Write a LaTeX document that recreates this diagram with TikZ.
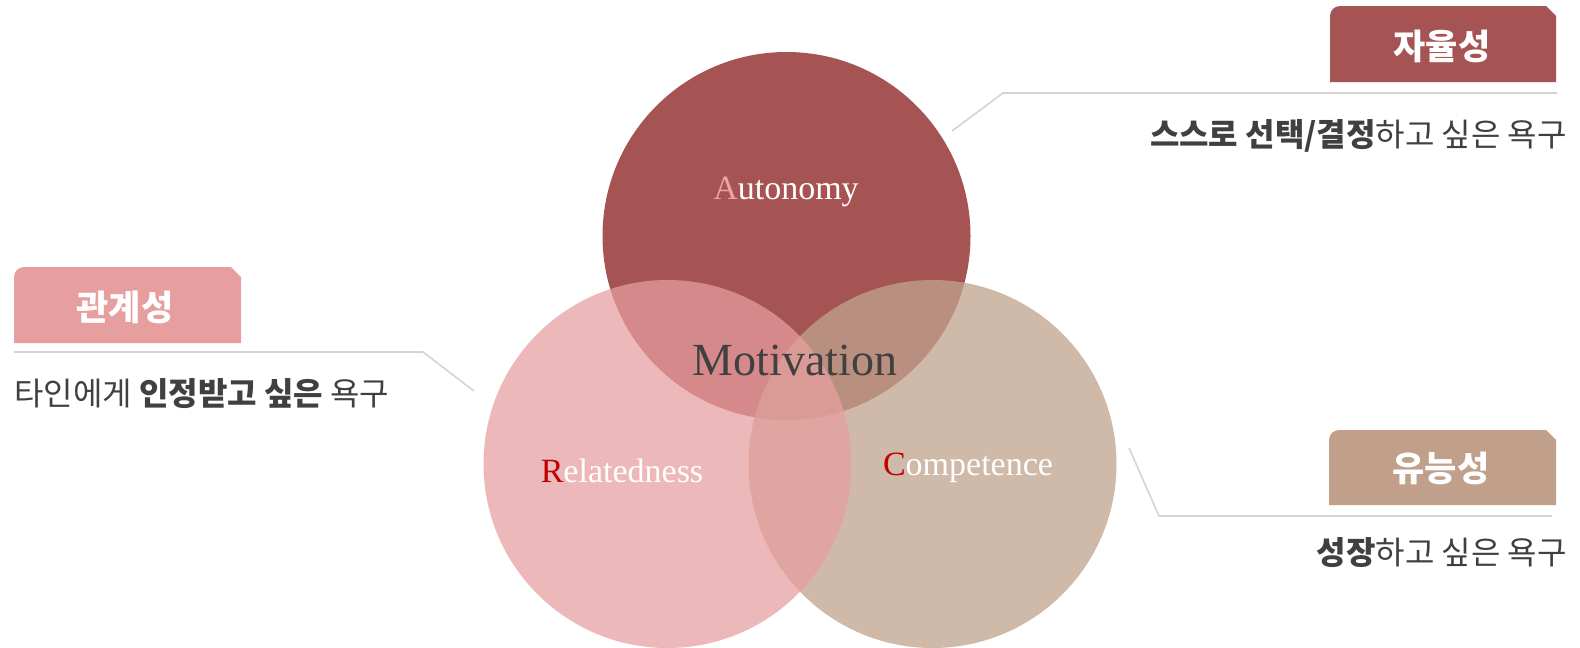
\documentclass[tikz,border=0pt]{standalone}
\usepackage{fontspec}
\setmainfont{Liberation Serif}
\newfontfamily\krfont{Noto Sans CJK KR}
\definecolor{autofill}{RGB}{166,83,84}
\definecolor{relfill}{RGB}{231,158,159}
\definecolor{compfill}{RGB}{192,164,141}
\definecolor{comptab}{RGB}{192,160,138}
\definecolor{txtgray}{RGB}{64,64,64}
\definecolor{leadgray}{RGB}{212,212,212}
\definecolor{initred}{RGB}{192,0,0}
\definecolor{initpink}{RGB}{234,162,162}

\tikzset{
  tablabel/.style={font=\krfont\bfseries\fontsize{35}{35}\selectfont, text=white, inner sep=0pt},
  needtext/.style={font=\krfont\fontsize{32}{32}\selectfont, text=txtgray, inner sep=0pt},
  circletext/.style={font=\fontsize{34}{34}\selectfont, text=white, inner sep=0pt},
  leadline/.style={draw=leadgray, line width=1.6pt},
}

\begin{document}
\begin{tikzpicture}[x=1pt,y=-1pt]
\useasboundingbox (0,0) rectangle (1580,648);
% three circles
\fill[autofill] (786.5,236) circle (184);
\fill[compfill, fill opacity=.765] (932.5,464) circle (184);
\fill[relfill, fill opacity=.73] (667.5,464) circle (184);
\node[circletext] (auto) at (786,192) {\textcolor{initpink}{A}utonomy};
\node[circletext] (rel) at (622,471) {\textcolor{initred}{R}elatedness};
\node[circletext] (comp) at (968,468) {\textcolor{initred}{C}ompetence};
\node[font=\fontsize{46}{46}\selectfont, text=txtgray, inner sep=0pt] (motiv) at (795,360) {Motivation};
% tabs
\fill[autofill] (1330,82) -- (1330,16) arc[start angle=180, end angle=270, radius=10] -- (1546,6) -- (1556,16) -- (1556,82) -- cycle;
\fill[relfill] (14,343) -- (14,277) arc[start angle=180, end angle=270, radius=10] -- (231,267) -- (241,277) -- (241,343) -- cycle;
\fill[comptab] (1329,505) -- (1329,440) arc[start angle=180, end angle=270, radius=10] -- (1546,430) -- (1556,440) -- (1556,505) -- cycle;
\node[tablabel] (autotab) at (1442,46) {자율성};
\node[tablabel] (reltab) at (125,307) {관계성};
\node[tablabel] (comptab) at (1441,468) {유능성};
% leader lines
\coordinate (autoend) at (952,131);
\coordinate (autobend) at (1003,93);
\coordinate (autoright) at (1557,93);
\coordinate (relleft) at (14,352);
\coordinate (relbend) at (423,352);
\coordinate (relend) at (474,391);
\coordinate (compend) at (1129,448);
\coordinate (compbend) at (1159,516);
\coordinate (compright) at (1552,516);
\draw[leadline] (autoend) -- (autobend) -- (autoright);
\draw[leadline] (relleft) -- (relbend) -- (relend);
\draw[leadline] (compend) -- (compbend) -- (compright);
% descriptions
\node[needtext, anchor=east] (autoneed) at (1567,136) {\textbf{스스로 선택/결정}하고 싶은 욕구};
\node[needtext, anchor=west] (relneed) at (14,394) {타인에게 \textbf{인정받고 싶은} 욕구};
\node[needtext, anchor=east] (compneed) at (1567,553) {\textbf{성장}하고 싶은 욕구};
\end{tikzpicture}
\end{document}
